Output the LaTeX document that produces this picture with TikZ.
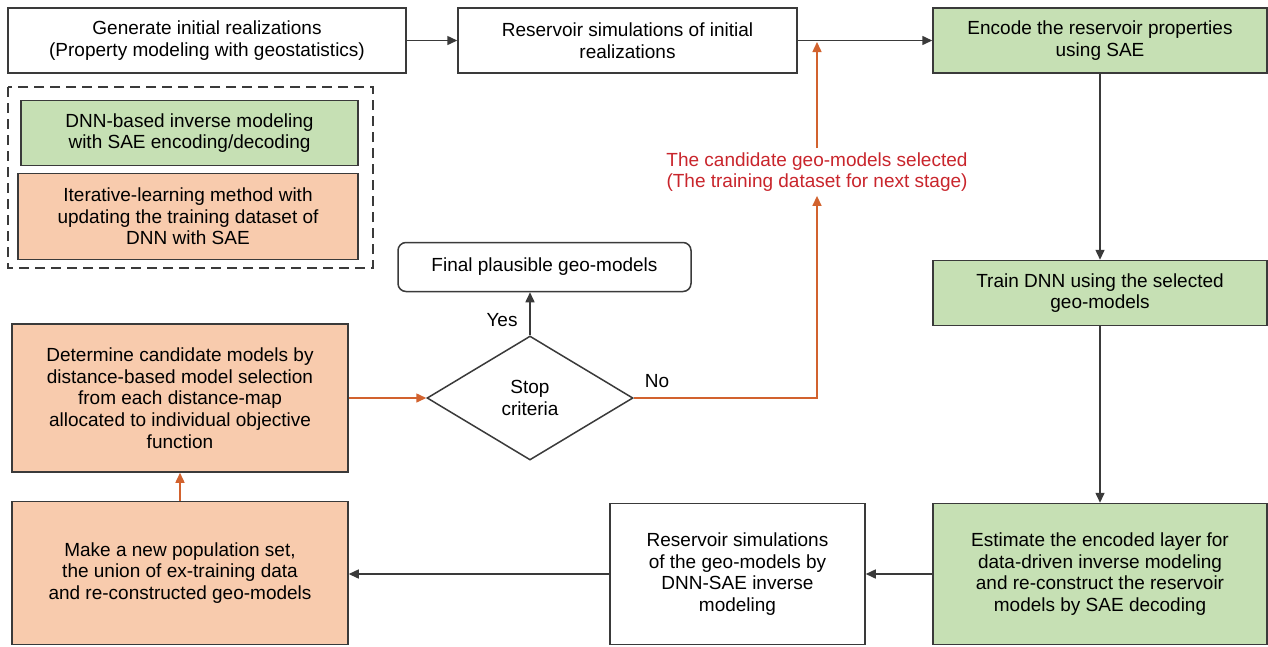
\documentclass[tikz,border=0pt]{standalone}
\usepackage{fontspec}
\setmainfont{Liberation Sans}
\usetikzlibrary{arrows.meta,positioning,shapes.geometric}
\definecolor{grn}{HTML}{C6E0B4}
\definecolor{org}{HTML}{F8CBAD}
\definecolor{ln}{HTML}{3A3A3A}
\definecolor{oln}{HTML}{D2622E}
\definecolor{rtxt}{HTML}{C9252C}
\tikzset{
  >={Triangle[length=10pt,width=9pt]},
  box/.style={draw=ln,line width=1.5pt,align=center,font=\fontsize{19}{21.7}\selectfont,inner sep=0pt,fill=white},
  gbox/.style={box,fill=grn},
  obox/.style={box,fill=org},
  lab/.style={font=\fontsize{19}{21.7}\selectfont,align=center},
  arr/.style={->,draw=ln,line width=1.5pt},
  oarr/.style={->,draw=oln,line width=1.5pt},
}
\begin{document}
\begin{tikzpicture}[x=1pt,y=-1pt]
\useasboundingbox[fill=white] (0,0) rectangle (1268,646);
% top row
\node[box,minimum width=398,minimum height=65] (gen) at (207,40.5) {Generate initial realizations\\(Property modeling with geostatistics)};
\node[box,minimum width=339,minimum height=65] (sim1) at (627.5,40.5) {Reservoir simulations of initial\\realizations};
\node[gbox,minimum width=334,minimum height=65] (enc) at (1100,40.5) {Encode the reservoir properties\\using SAE};
% legend
\draw[draw=ln,line width=1.5pt,dash pattern=on 10pt off 6pt] (8,87) rectangle (373,268);
\node[gbox,minimum width=337,minimum height=65] (lgg) at (189.5,133) {DNN-based inverse modeling\\with SAE encoding/decoding};
\node[obox,minimum width=340,minimum height=86] (lgo) at (188,216.5) {Iterative-learning method with\\updating the training dataset of\\DNN with SAE};
% right column
\node[gbox,minimum width=334,minimum height=65] (train) at (1100,293) {Train DNN using the selected\\geo-models};
\node[gbox,minimum width=334,minimum height=141] (est) at (1100,574) {Estimate the encoded layer for\\data-driven inverse modeling\\and re-construct the reservoir\\models by SAE decoding};
\node[box,minimum width=255,minimum height=141] (sim2) at (737.5,574) {Reservoir simulations\\of the geo-models by\\DNN-SAE inverse\\modeling};
% left column
\node[obox,minimum width=336,minimum height=143] (pop) at (180,573) {Make a new population set,\\the union of ex-training data\\and re-constructed geo-models};
\node[obox,minimum width=336,minimum height=148] (det) at (180,398) {Determine candidate models by\\distance-based model selection\\from each distance-map\\allocated to individual objective\\function};
% decision
\node[box,shape=diamond,minimum width=206,minimum height=124] (stop) at (530,398) {Stop\\criteria};
\node[box,rounded corners=8pt,minimum width=293,minimum height=49] (final) at (544.5,267) {Final plausible geo-models};
\node[lab] (yes) at (502,320) {Yes};
\node[lab] (no) at (657,381) {No};
\node[lab,text=rtxt,inner sep=4pt] (cand) at (817,172) {The candidate geo-models selected\\(The training dataset for next stage)};
\coordinate (tip) at (817,42);
% connectors
\draw[arr] (gen) -- (sim1);
\draw[arr] (sim1) -- (enc);
\draw[arr] (enc) -- (train);
\draw[arr] (train) -- (est);
\draw[arr] (est) -- (sim2);
\draw[arr] (sim2.west) -- (sim2.west -| pop.east);
\draw[oarr] (pop) -- (det);
\draw[oarr] (det.east) -- (stop.west);
\draw[arr] (stop.north) -- (stop.north |- final.south);
\draw[oarr] (stop.east) -| (cand.south);
\draw[oarr] (cand.north) -- (tip);
\end{tikzpicture}
\end{document}
